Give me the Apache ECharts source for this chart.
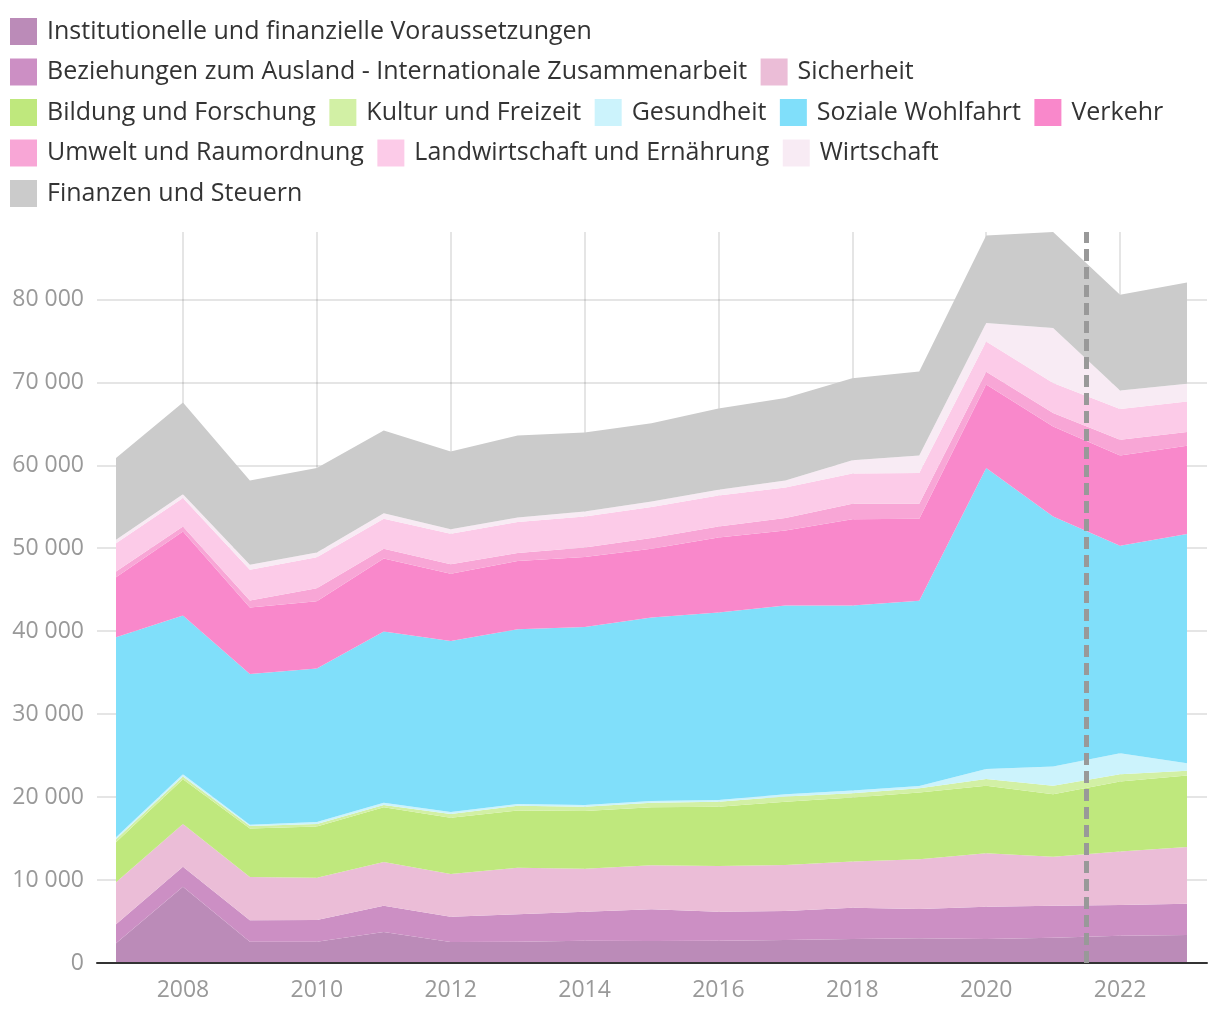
<!DOCTYPE html>
<html>
<head>
<meta charset="utf-8">
<script src="https://cdn.jsdelivr.net/npm/echarts@6/dist/echarts.min.js"></script>
<style>
html,body{margin:0;padding:0;background:#fff;}
#chart{width:1220px;height:1020px;}
</style>
</head>
<body>
<div id="chart"></div>
<script>
const years = [2007,2008,2009,2010,2011,2012,2013,2014,2015,2016,2017,2018,2019,2020,2021,2022,2023];
const xTickLabels = [2008,2010,2012,2014,2016,2018,2020,2022];
const seriesNames = [
  "Institutionelle und finanzielle Voraussetzungen",
  "Beziehungen zum Ausland - Internationale Zusammenarbeit",
  "Sicherheit",
  "Bildung und Forschung",
  "Kultur und Freizeit",
  "Gesundheit",
  "Soziale Wohlfahrt",
  "Verkehr",
  "Umwelt und Raumordnung",
  "Landwirtschaft und Ernährung",
  "Wirtschaft",
  "Finanzen und Steuern"
];
const institutionelle = [2370,9200,2570,2570,3740,2530,2570,2690,2650,2690,2770,2900,2980,2890,3050,3290,3380];
const beziehungen     = [2290,2410,2580,2620,3170,3060,3300,3500,3820,3500,3500,3750,3530,3900,3860,3700,3770];
const sicherheit      = [5070,5150,5220,5100,5270,5140,5620,5180,5310,5510,5550,5590,6000,6440,5910,6440,6840];
const bildung         = [4830,5390,5830,6150,6600,6790,6880,6960,7000,7150,7630,7710,8030,8150,7520,8440,8600];
const kultur          = [360,320,320,320,270,450,600,520,550,600,610,510,530,810,1040,880,600];
const gesundheit      = [240,290,160,240,280,240,210,200,210,210,280,320,280,1210,2300,2540,890];
const soziale         = [24120,19130,18170,18490,20620,20620,21060,21440,22100,22590,22750,22310,22310,36260,30150,25000,27620];
const verkehr         = [7230,10130,8000,8130,8810,8080,8210,8440,8290,9040,9050,10410,9890,10080,10850,10890,10650];
const umwelt          = [680,600,850,1570,1170,1170,960,1160,1290,1330,1490,1850,1800,1530,1610,1890,1650];
const landwirtschaft  = [3420,3420,3700,3730,3620,3660,3740,3730,3740,3740,3690,3650,3710,3660,3620,3700,3690];
const wirtschaft      = [400,480,600,560,680,560,550,610,680,680,850,1600,2120,2220,6630,2250,2140];
const finanzen        = [9860,11050,10170,10180,9970,9360,9890,9520,9440,9810,9930,9900,10130,10560,11580,11540,12210];
const seriesValues = [institutionelle,beziehungen,sicherheit,bildung,kultur,gesundheit,soziale,verkehr,umwelt,landwirtschaft,wirtschaft,finanzen];
const colors = ["#bb8bb8","#cc8fc4","#ebbdd7","#bfe87d","#d2f0a5","#ccf3fc","#80dffa","#f988cb","#f8a6d6","#fccbe8","#f8ebf4","#cbcbcb"];
const projectionYear = 2021.5;

const chart = echarts.init(document.getElementById('chart'), null, {renderer:'canvas'});
const font = "'Open Sans', 'Noto Sans', sans-serif";

const series = seriesNames.map((name, i) => {
  const s = {
    name: name,
    type: 'line',
    stack: 'total',
    // value first so that the stack is applied to the value dimension
    dimensions: ['value', 'year'],
    encode: {x: 'year', y: 'value'},
    data: years.map((y, j) => [seriesValues[i][j], y]),
    showSymbol: false,
    symbol: 'none',
    lineStyle: {width: 0, opacity: 0},
    areaStyle: {color: colors[i], opacity: 1},
    itemStyle: {color: colors[i]},
    emphasis: {disabled: true},
    silent: true,
    animation: false
  };
  if (i === seriesNames.length - 1) {
    s.markLine = {
      silent: true,
      symbol: ['none','none'],
      label: {show: false},
      lineStyle: {color: '#999999', width: 5, type: [12, 6]},
      data: [{xAxis: projectionYear}],
      animation: false
    };
  }
  return s;
});

chart.setOption({
  animation: false,
  color: colors,
  textStyle: {fontFamily: font},
  legend: {
    left: 5, top: 13, width: 1210,
    itemWidth: 27, itemHeight: 27,
    itemGap: 13.5,
    icon: 'rect',
    textStyle: {fontSize: 25, color: '#333333', fontFamily: font, padding: [0, 3.5, 0, 5]},
    data: seriesNames
  },
  grid: {left: 97, right: 13, top: 232, bottom: 57, containLabel: false},
  xAxis: {
    type: 'value',
    min: 2006.716, max: 2023.299,
    z: 3,
    axisLine: {show: true, lineStyle: {color: '#333333', width: 2}},
    axisTick: {show: false, customValues: xTickLabels},
    axisLabel: {customValues: xTickLabels, color: '#999999', fontSize: 23, margin: 16, fontFamily: font,
      formatter: v => String(v)},
    splitLine: {show: true, lineStyle: {color: 'rgba(0,0,0,0.1)', width: 2}}
  },
  yAxis: {
    type: 'value',
    min: 0, max: 'dataMax',
    interval: 10000,
    z: 3,
    axisLine: {show: false},
    axisTick: {show: false},
    axisLabel: {
      color: '#999999', fontSize: 23, margin: 13, fontFamily: font,
      formatter: v => v === 0 ? '0' : String(v).replace(/\B(?=(\d{3})+(?!\d))/g, ' '),
      showMaxLabel: false
    },
    splitLine: {show: true, showMaxLine: false, lineStyle: {color: 'rgba(0,0,0,0.1)', width: 2}}
  },
  series: series
});
</script>
</body>
</html>
